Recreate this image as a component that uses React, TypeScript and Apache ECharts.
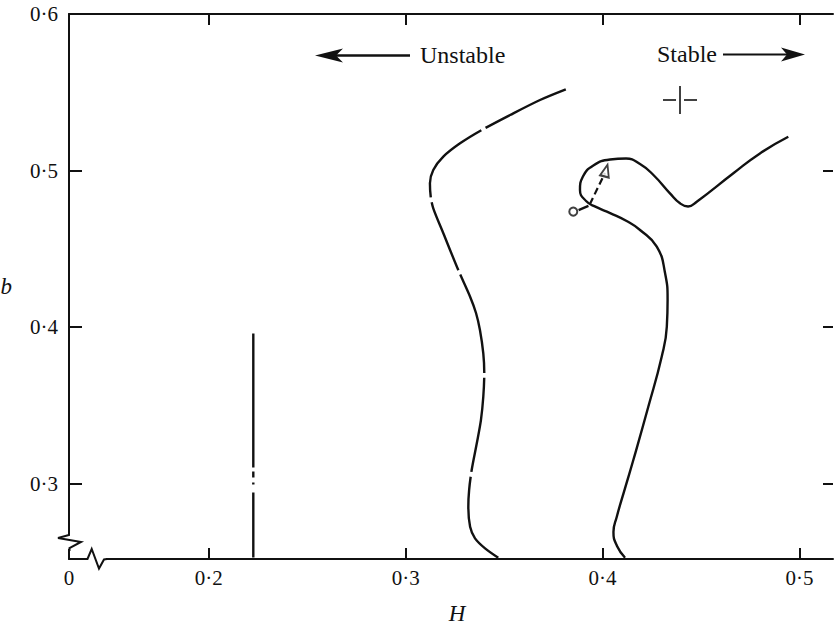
import React, { useEffect, useRef } from "react";
import * as echarts from "echarts";

// Axis ranges (the H axis is broken between 0 and 0.2)
const H_MIN = 0.129;
const H_MAX = 0.517;
const B_MIN = 0.252;
const B_MAX = 0.6;

const xTicks = [0.2, 0.3, 0.4, 0.5];
const yTicks = [0.3, 0.4, 0.5, 0.6];
const yRightTicks = [0.3, 0.4, 0.5];

// Vertical dash-dot line
const criticalLine: [number, number][] = [
  [0.2226, 0.396],
  [0.2226, 0.253],
];

// Broken (long-dash) boundary, from its top end down to the axis
const leftBoundary: [number, number][] = [
  [0.3813, 0.5519], [0.3682, 0.5451], [0.353, 0.5355], [0.3386, 0.5259],
  [0.3276, 0.5174], [0.3191, 0.5089], [0.314, 0.5004], [0.3123, 0.4919],
  [0.3127, 0.4833], [0.314, 0.4759], [0.3191, 0.46], [0.3267, 0.4365],
  [0.3327, 0.4195], [0.3357, 0.4091], [0.3377, 0.3982], [0.3394, 0.3833],
  [0.3399, 0.3706], [0.3394, 0.3556], [0.3382, 0.3407], [0.3361, 0.3259],
  [0.3335, 0.3088], [0.3322, 0.296], [0.3318, 0.2854], [0.3327, 0.2726],
  [0.3352, 0.2652], [0.3403, 0.2588], [0.347, 0.2528],
];

// Solid boundary with its loop, from the axis up to its right end
const rightBoundary: [number, number][] = [
  [0.4114, 0.2528], [0.4073, 0.2603], [0.4055, 0.2692], [0.4072, 0.279],
  [0.4114, 0.2973], [0.4156, 0.3152], [0.4232, 0.3492], [0.43, 0.3812],
  [0.4326, 0.4003], [0.433, 0.4174], [0.4317, 0.4346], [0.4275, 0.4514],
  [0.419, 0.4621], [0.4122, 0.4678], [0.4038, 0.4729], [0.3966, 0.4768],
  [0.3916, 0.4806], [0.3885, 0.4876], [0.39, 0.4962], [0.3953, 0.5033],
  [0.4038, 0.5071], [0.4119, 0.5077], [0.419, 0.5042], [0.4258, 0.4972],
  [0.4342, 0.4855], [0.4393, 0.4791], [0.4434, 0.4771], [0.4478, 0.4801],
  [0.4664, 0.4983], [0.4799, 0.511], [0.4943, 0.5216],
];

// Short path from the open circle to the arrow head
const orbitStart: [number, number][] = [[0.3851, 0.4738]];
const orbitTail: [number, number][] = [
  [0.3878, 0.4748],
  [0.3928, 0.4775],
];
const orbitLink: [number, number][] = [
  [0.3935, 0.4785],
  [0.4012, 0.4985],
];
const orbitEnd: [number, number][] = [[0.4017, 0.5]];

// Cross marker
const crossPoint: [number, number][] = [[0.4393, 0.5451]];

const SERIF = "'Liberation Serif', 'DejaVu Serif', serif";
const INK = "#111";

const fmt = (v: number) => (v < 0.15 ? "0" : v.toFixed(1).replace(".", "\u00b7"));

export default function App() {
  const ref = useRef<HTMLDivElement>(null);

  useEffect(() => {
    if (!ref.current) return;
    const chart = echarts.init(ref.current, null, { renderer: "svg" });

    const left = 69;
    const top = 14;
    const right = 1;
    const bottom = 68;
    const H = 627;
    const axisY = H - bottom; // bottom axis line
    const lw = 2.4;

    const lineSeries = (data: [number, number][], type: any, smooth: number | boolean) => ({
      type: "line",
      data,
      symbol: "none",
      smooth,
      silent: true,
      lineStyle: { color: INK, width: lw, type, cap: "butt" },
      z: 3,
    });

    chart.setOption({
      animation: false,
      backgroundColor: "#fff",
      grid: { left, right, top, bottom, containLabel: false, outerBoundsMode: "none" },
      xAxis: [
        {
          type: "value",
          position: "bottom",
          min: H_MIN,
          max: H_MAX,
          axisLine: { show: true, onZero: false, lineStyle: { color: INK, width: 2 } },
          axisTick: {
            show: true,
            inside: true,
            length: 11,
            customValues: xTicks,
            lineStyle: { color: INK, width: 2 },
          },
          axisLabel: {
            show: true,
            customValues: [H_MIN, ...xTicks],
            formatter: (v: number) => fmt(v),
            margin: 8,
            fontFamily: SERIF,
            fontSize: 21,
            color: INK,
          },
          splitLine: { show: false },
        },
        {
          type: "value",
          position: "top",
          min: H_MIN,
          max: H_MAX,
          axisLine: { show: true, onZero: false, lineStyle: { color: INK, width: 2 } },
          axisTick: {
            show: true,
            inside: true,
            length: 11,
            customValues: xTicks,
            lineStyle: { color: INK, width: 2 },
          },
          axisLabel: { show: false },
          splitLine: { show: false },
        },
      ],
      yAxis: [
        {
          type: "value",
          position: "left",
          min: B_MIN,
          max: B_MAX,
          name: "b",
          nameLocation: "middle",
          nameGap: 57,
          nameRotate: 0,
          nameTextStyle: {
            fontFamily: SERIF,
            fontStyle: "italic",
            fontSize: 23,
            color: INK,
          },
          axisLine: { show: true, onZero: false, lineStyle: { color: INK, width: 2 } },
          axisTick: {
            show: true,
            inside: true,
            length: 13,
            customValues: yTicks,
            lineStyle: { color: INK, width: 2 },
          },
          axisLabel: {
            show: true,
            customValues: yTicks,
            formatter: (v: number) => fmt(v),
            margin: 11,
            fontFamily: SERIF,
            fontSize: 21,
            color: INK,
          },
          splitLine: { show: false },
        },
        {
          type: "value",
          position: "right",
          min: B_MIN,
          max: B_MAX,
          axisLine: { show: false },
          axisTick: {
            show: true,
            inside: true,
            length: 10,
            customValues: yRightTicks,
            lineStyle: { color: INK, width: 2 },
          },
          axisLabel: { show: false },
          splitLine: { show: false },
        },
      ],
      series: [
        lineSeries(criticalLine, [134, 4, 6, 5, 2, 8, 90], false),
        lineSeries(leftBoundary, [89, 5, 91, 5, 73, 5, 102, 5, 95, 5, 300], 0.3),
        lineSeries(rightBoundary, "solid", 0.5),
        lineSeries(orbitTail, "solid", false),
        { ...lineSeries(orbitLink, [7, 4], false), lineStyle: { color: INK, width: 2.2, type: [7, 4] } },
        {
          type: "scatter",
          data: orbitStart,
          symbol: "emptyCircle",
          symbolSize: 8,
          silent: true,
          itemStyle: { color: INK, borderColor: INK, borderWidth: 2 },
          z: 4,
        },
        {
          type: "scatter",
          data: orbitEnd,
          symbol: "emptyTriangle",
          symbolSize: [9, 12],
          symbolRotate: -15,
          silent: true,
          itemStyle: { color: INK, borderColor: INK, borderWidth: 2 },
          z: 4,
        },
        {
          type: "scatter",
          data: crossPoint,
          symbol: "path://M0,13h13v2h-13zM21,13h13v2h-13zM16,0h2v28h-2z",
          symbolSize: [34, 28],
          silent: true,
          itemStyle: { color: INK },
          z: 4,
        },
      ],
      graphic: [
        // break marks on the two axes
        { type: "rect", z: 100, shape: { x: left - 5, y: axisY - 28, width: 10, height: 18 }, style: { fill: "#fff" } },
        { type: "rect", z: 100, shape: { x: left + 15, y: axisY - 3, width: 22, height: 6 }, style: { fill: "#fff" } },
        {
          type: "polyline",
          z: 101,
          shape: {
            points: [
              [left, axisY - 29], [left, axisY - 24], [left - 11, axisY - 21],
              [left + 12, axisY - 17], [left + 0.5, axisY - 11], [left + 0.5, axisY - 8],
            ],
          },
          style: { stroke: INK, lineWidth: 2, fill: "none" },
        },
        {
          type: "polyline",
          z: 101,
          shape: {
            points: [
              [left + 14, axisY], [left + 18.5, axisY], [left + 22.7, axisY - 10],
              [left + 30, axisY + 9.5], [left + 35, axisY + 0.5], [left + 38, axisY],
            ],
          },
          style: { stroke: INK, lineWidth: 2, fill: "none" },
        },
        // horizontal axis title
        {
          type: "text",
          z: 100,
          style: {
            text: "H",
            x: 457,
            y: 613,
            font: `italic 23px ${SERIF}`,
            fill: INK,
            textAlign: "center",
            textVerticalAlign: "middle",
          },
        },
        // "Unstable" annotation with arrow pointing left
        { type: "line", z: 100, shape: { x1: 335, y1: 55.5, x2: 410, y2: 55.5 }, style: { stroke: INK, lineWidth: 2.6 } },
        {
          type: "polygon",
          z: 100,
          shape: { points: [[315, 55.5], [343, 48.5], [336, 55.5], [343, 62.5]] },
          style: { fill: INK },
        },
        {
          type: "text",
          z: 100,
          style: {
            text: "Unstable",
            x: 420,
            y: 55,
            font: `24px ${SERIF}`,
            fill: INK,
            textAlign: "left",
            textVerticalAlign: "middle",
          },
        },
        // "Stable" annotation with arrow pointing right
        {
          type: "text",
          z: 100,
          style: {
            text: "Stable",
            x: 657,
            y: 54,
            font: `24px ${SERIF}`,
            fill: INK,
            textAlign: "left",
            textVerticalAlign: "middle",
          },
        },
        { type: "line", z: 100, shape: { x1: 723, y1: 54.5, x2: 789, y2: 54.5 }, style: { stroke: INK, lineWidth: 2.2 } },
        {
          type: "polygon",
          z: 100,
          shape: { points: [[805, 54.5], [781, 47.5], [787, 54.5], [781, 61.5]] },
          style: { fill: INK },
        },
      ],
    });

    return () => chart.dispose();
  }, []);

  return (
    <div
      ref={ref}
      style={{ position: "fixed", left: 0, top: 0, width: 834, height: 627, background: "#fff" }}
    />
  );
}
